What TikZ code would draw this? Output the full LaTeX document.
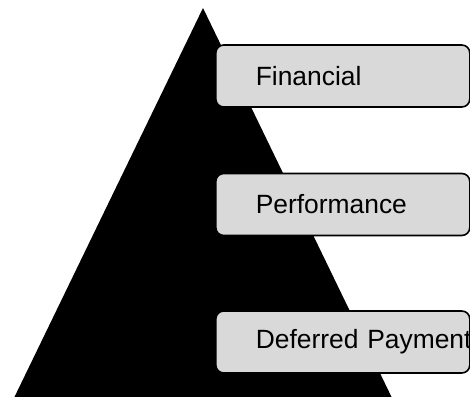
\documentclass[tikz,border=0pt]{standalone}
\usepackage{fontspec}
\setmainfont{Liberation Sans}
\usepackage{tikz}

\begin{document}
\begin{tikzpicture}[x=0.5pt,y=-0.5pt]
\tikzstyle{level}=[draw,fill=black!15,line width=0.8pt,rounded corners=4pt,anchor=west,
  minimum height=31pt,text width=87pt,inner xsep=20pt,align=left,
  font=\fontsize{13.2pt}{15pt}\selectfont];
\useasboundingbox (0,0) rectangle (470,396);
\fill (203,8) -- (393,400) -- (13,400) -- cycle;
\path (215,76) node[level] (v1) {\mbox{Financial}};
\path (215,204.5) node[level] (v2) {\mbox{Performance}};
\path (215,342) node[level] (v3) {\mbox{Deferred Payment}};
\end{tikzpicture}
\end{document}
